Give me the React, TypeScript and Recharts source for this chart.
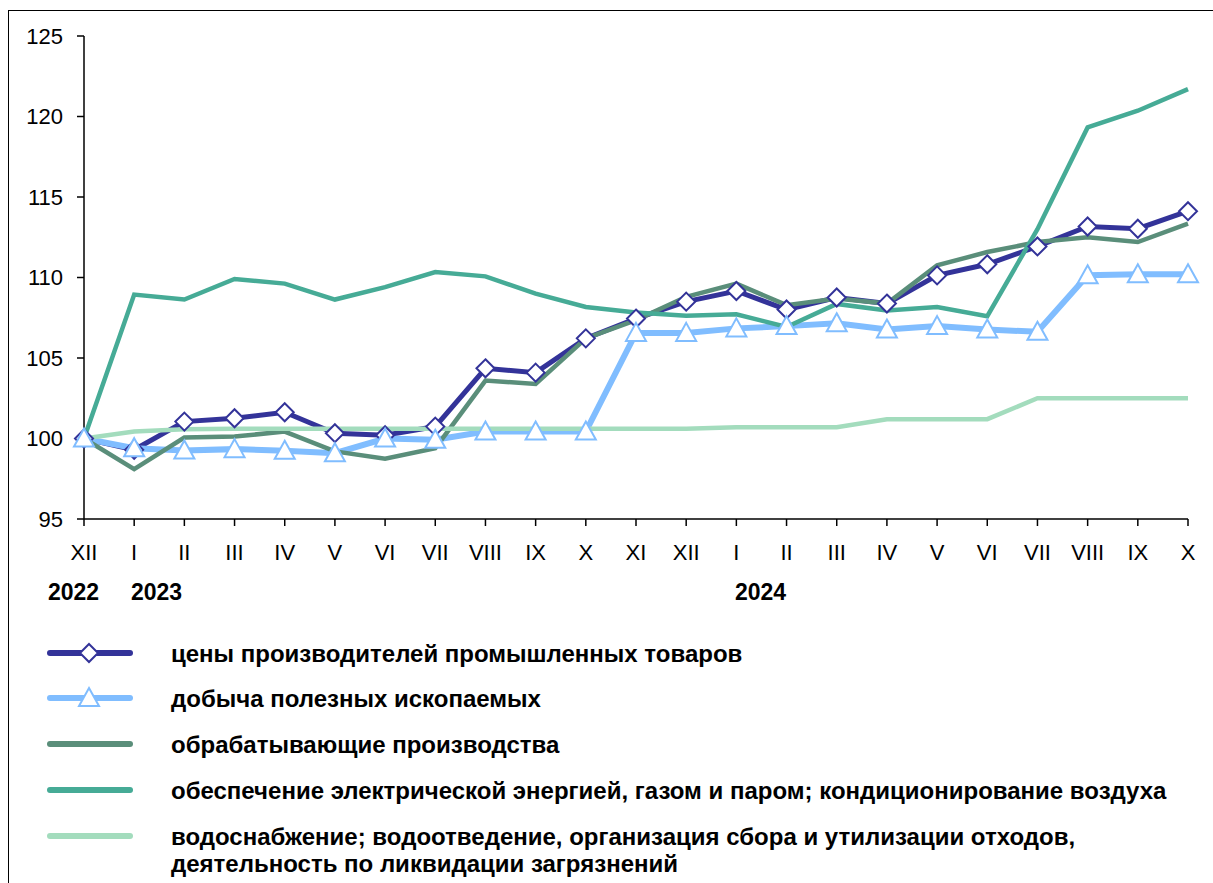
import React from 'react'
import { Line, LineChart, XAxis, YAxis } from 'recharts'

// месяцы: XII 2022 ... X 2024
const months = ['XII', 'I', 'II', 'III', 'IV', 'V', 'VI', 'VII', 'VIII', 'IX', 'X', 'XI', 'XII', 'I', 'II', 'III', 'IV', 'V', 'VI', 'VII', 'VIII', 'IX', 'X']

const producerPrices = [100, 99.3, 101.05, 101.26, 101.63, 100.33, 100.2, 100.74, 104.36, 104.09, 106.22, 107.45, 108.5, 109.16, 108.01, 108.76, 108.38, 110.13, 110.82, 111.93, 113.17, 113.03, 114.12]
const mining = [100, 99.4, 99.26, 99.34, 99.24, 99.09, 100.0, 99.92, 100.43, 100.43, 100.43, 106.56, 106.56, 106.84, 106.98, 107.16, 106.77, 106.98, 106.77, 106.63, 110.14, 110.2, 110.2]
const manufacturing = [100, 98.1, 100.06, 100.12, 100.43, 99.2, 98.74, 99.4, 103.6, 103.39, 106.22, 107.35, 108.8, 109.62, 108.28, 108.69, 108.38, 110.75, 111.58, 112.2, 112.5, 112.2, 113.34]
const electricity = [100, 108.94, 108.63, 109.91, 109.62, 108.63, 109.4, 110.34, 110.07, 109.0, 108.17, 107.82, 107.62, 107.72, 106.93, 108.36, 107.95, 108.17, 107.6, 113.0, 119.32, 120.36, 121.7]
const water = [100, 100.43, 100.58, 100.6, 100.6, 100.6, 100.6, 100.6, 100.6, 100.6, 100.6, 100.6, 100.6, 100.7, 100.7, 100.7, 101.2, 101.2, 101.2, 102.5, 102.5, 102.5, 102.5]

const yTicks = [95, 100, 105, 110, 115, 120, 125]

const years = [
  { label: '2022', left: 48 },
  { label: '2023', left: 131 },
  { label: '2024', left: 735 },
]

const seriesNames = [
  'цены производителей промышленных товаров',
  'добыча полезных ископаемых',
  'обрабатывающие производства',
  'обеспечение электрической энергией, газом и паром; кондиционирование воздуха',
  'водоснабжение; водоотведение, организация сбора и утилизации отходов,\nдеятельность по ликвидации загрязнений',
]

const C_PRICES = '#333399'
const C_MINING = '#80bdff'
const C_MANUF = '#5a8e7a'
const C_ELEC = '#46ab96'
const C_WATER = '#a3dcbd'

const FONT = '"Liberation Sans", Arial, sans-serif'

const data = months.map((m, i) => ({
  i,
  month: m,
  prices: producerPrices[i],
  mining: mining[i],
  manuf: manufacturing[i],
  elec: electricity[i],
  water: water[i],
}))

function Diamond({ cx, cy, r = 9 }: { cx: number; cy: number; r?: number }) {
  return (
    <polygon
      points={`${cx},${cy - r} ${cx + r},${cy} ${cx},${cy + r} ${cx - r},${cy}`}
      fill="#fff"
      stroke={C_PRICES}
      strokeWidth={2}
    />
  )
}

function Triangle({ cx, cy }: { cx: number; cy: number }) {
  return (
    <polygon
      points={`${cx},${cy - 10} ${cx + 10},${cy + 8} ${cx - 10},${cy + 8}`}
      fill="#fff"
      stroke={C_MINING}
      strokeWidth={2}
    />
  )
}

const diamondDot = (p: any) => <Diamond key={`d${p.index}`} cx={p.cx} cy={p.cy} />
const triangleDot = (p: any) => <Triangle key={`t${p.index}`} cx={p.cx} cy={p.cy} />

const xTick = (p: any) => (
  <text key={`x${p.index}`} x={p.x} y={p.y + 24} dy="0.35em" textAnchor="middle" fontSize={22} fontFamily={FONT} fill="#000">
    {months[p.payload.value]}
  </text>
)

const yTick = (p: any) => (
  <text key={`y${p.index}`} x={p.x - 12} y={p.y} dy="0.35em" textAnchor="end" fontSize={22} fontFamily={FONT} fill="#000">
    {p.payload.value}
  </text>
)

function LegendSwatch({ kind, color }: { kind: 'diamond' | 'triangle' | 'line'; color: string }) {
  return (
    <svg width={90} height={26} style={{ position: 'absolute', left: 45, top: -13 }}>
      <line x1={5} y1={13} x2={85} y2={13} stroke={color} strokeWidth={6} strokeLinecap="round" />
      {kind === 'diamond' && <Diamond cx={44} cy={13} />}
      {kind === 'triangle' && <Triangle cx={44} cy={13} />}
    </svg>
  )
}

const legendRows: { y: number; kind: 'diamond' | 'triangle' | 'line'; color: string }[] = [
  { y: 653, kind: 'diamond', color: C_PRICES },
  { y: 698, kind: 'triangle', color: C_MINING },
  { y: 744, kind: 'line', color: C_MANUF },
  { y: 790, kind: 'line', color: C_ELEC },
  { y: 836, kind: 'line', color: C_WATER },
]

export default function App() {
  return (
    <div style={{ position: 'absolute', left: 0, top: 0, width: 1213, height: 883, background: '#fff', fontFamily: FONT }}>
      <div
        style={{
          position: 'absolute',
          left: 8,
          top: 10,
          width: 1205,
          height: 873,
          borderTop: '1px solid #000',
          borderLeft: '1px solid #000',
        }}
      />
      <div style={{ position: 'absolute', left: 0, top: 0 }}>
        <LineChart width={1213} height={580} data={data} margin={{ top: 36, right: 25, bottom: 20, left: 24 }}>
          <XAxis
            dataKey="i"
            type="category"
            scale="point"
            padding={{ left: 0, right: 0 }}
            interval={0}
            height={41}
            tickSize={7}
            axisLine={{ stroke: '#000', strokeWidth: 1.5 }}
            tickLine={{ stroke: '#000', strokeWidth: 1.5 }}
            tick={xTick}
          />
          <YAxis
            domain={[95, 125]}
            ticks={yTicks}
            width={60}
            tickSize={7}
            axisLine={{ stroke: '#000', strokeWidth: 1.5 }}
            tickLine={{ stroke: '#000', strokeWidth: 1.5 }}
            tick={yTick}
          />
          <Line dataKey="prices" stroke={C_PRICES} strokeWidth={5} dot={diamondDot} activeDot={false} isAnimationActive={false} />
          <Line dataKey="mining" stroke={C_MINING} strokeWidth={6} dot={triangleDot} activeDot={false} isAnimationActive={false} />
          <Line dataKey="manuf" stroke={C_MANUF} strokeWidth={4.5} dot={false} activeDot={false} isAnimationActive={false} />
          <Line dataKey="elec" stroke={C_ELEC} strokeWidth={4.5} dot={false} activeDot={false} isAnimationActive={false} />
          <Line dataKey="water" stroke={C_WATER} strokeWidth={4.5} dot={false} activeDot={false} isAnimationActive={false} />
        </LineChart>
      </div>

      {years.map((y) => (
        <div key={y.label} style={{ position: 'absolute', left: y.left, top: 579, fontSize: 23, fontWeight: 'bold', lineHeight: '27px' }}>
          {y.label}
        </div>
      ))}

      {legendRows.map((r, k) => (
        <div key={k} style={{ position: 'absolute', left: 0, top: r.y }}>
          <LegendSwatch kind={r.kind} color={r.color} />
          <div
            style={{
              position: 'absolute',
              left: 171,
              top: -13,
              width: 1040,
              fontSize: 24,
              fontWeight: 'bold',
              lineHeight: '27px',
              whiteSpace: 'pre',
            }}
          >
            {seriesNames[k]}
          </div>
        </div>
      ))}
    </div>
  )
}
